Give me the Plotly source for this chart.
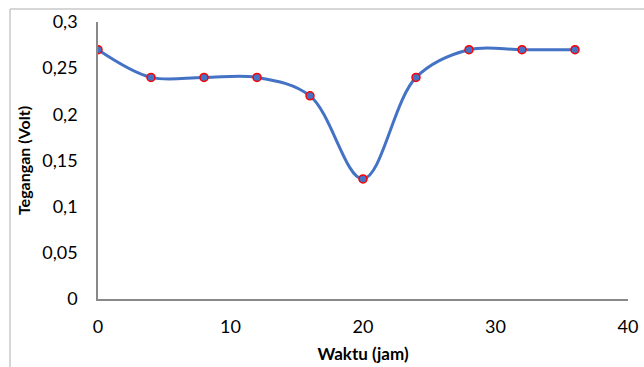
import plotly.graph_objects as go

waktu = [0, 4, 8, 12, 16, 20, 24, 28, 32, 36]
tegangan = [0.27, 0.24, 0.24, 0.24, 0.22, 0.13, 0.24, 0.27, 0.27, 0.27]
x_ticks = [0, 10, 20, 30, 40]
y_ticks = [0, 0.05, 0.1, 0.15, 0.2, 0.25, 0.3]
y_labels = ["0", "0,05", "0,1", "0,15", "0,2", "0,25", "0,3"]

fig = go.Figure()
fig.add_trace(go.Scatter(
    x=waktu, y=tegangan, mode="lines+markers",
    line=dict(color="#4472C4", width=3, shape="spline", smoothing=1.0),
    marker=dict(size=8, color="#4472C4", line=dict(color="#FF0000", width=1.5)),
))

L, R, T, B = 98, 16, 22, 68
pw, ph = 644 - L - R, 367 - T - B
fx = (10 - L) / pw
fy = (367 - B - 9) / ph
fig.update_layout(
    width=644, height=367,
    margin=dict(l=L, r=R, t=T, b=B),
    paper_bgcolor="white", plot_bgcolor="white",
    showlegend=False,
    font=dict(family="Lato, Open Sans, sans-serif", size=18, color="#000000"),
    xaxis=dict(range=[0, 40], tickvals=x_ticks, showgrid=False, zeroline=False,
               showline=True, linecolor="#898989", linewidth=1.5, ticks="",
               automargin=False,
               title=dict(text="<b>Waktu (jam)</b>", font=dict(size=17), standoff=12),
               ticklabelstandoff=11),
    yaxis=dict(range=[0, 0.3], tickvals=y_ticks, ticktext=y_labels, showgrid=False,
               zeroline=False, showline=True, linecolor="#898989", linewidth=1.5,
               ticks="", ticklabelstandoff=15, automargin=False,
               title=dict(text="<b>Tegangan (Volt)</b>", font=dict(size=16), standoff=8)),
    shapes=[
        dict(type="line", xref="paper", yref="paper", x0=fx, x1=1.2, y0=fy, y1=fy,
             line=dict(color="#c8c8c8", width=1.5), layer="below"),
        dict(type="line", xref="paper", yref="paper", x0=fx, x1=fx, y0=fy, y1=-0.5,
             line=dict(color="#c8c8c8", width=1.5), layer="below"),
    ],
)
fig.write_html("out.html",
               post_script="document.body.style.margin='0';document.body.style.overflow='hidden';")
